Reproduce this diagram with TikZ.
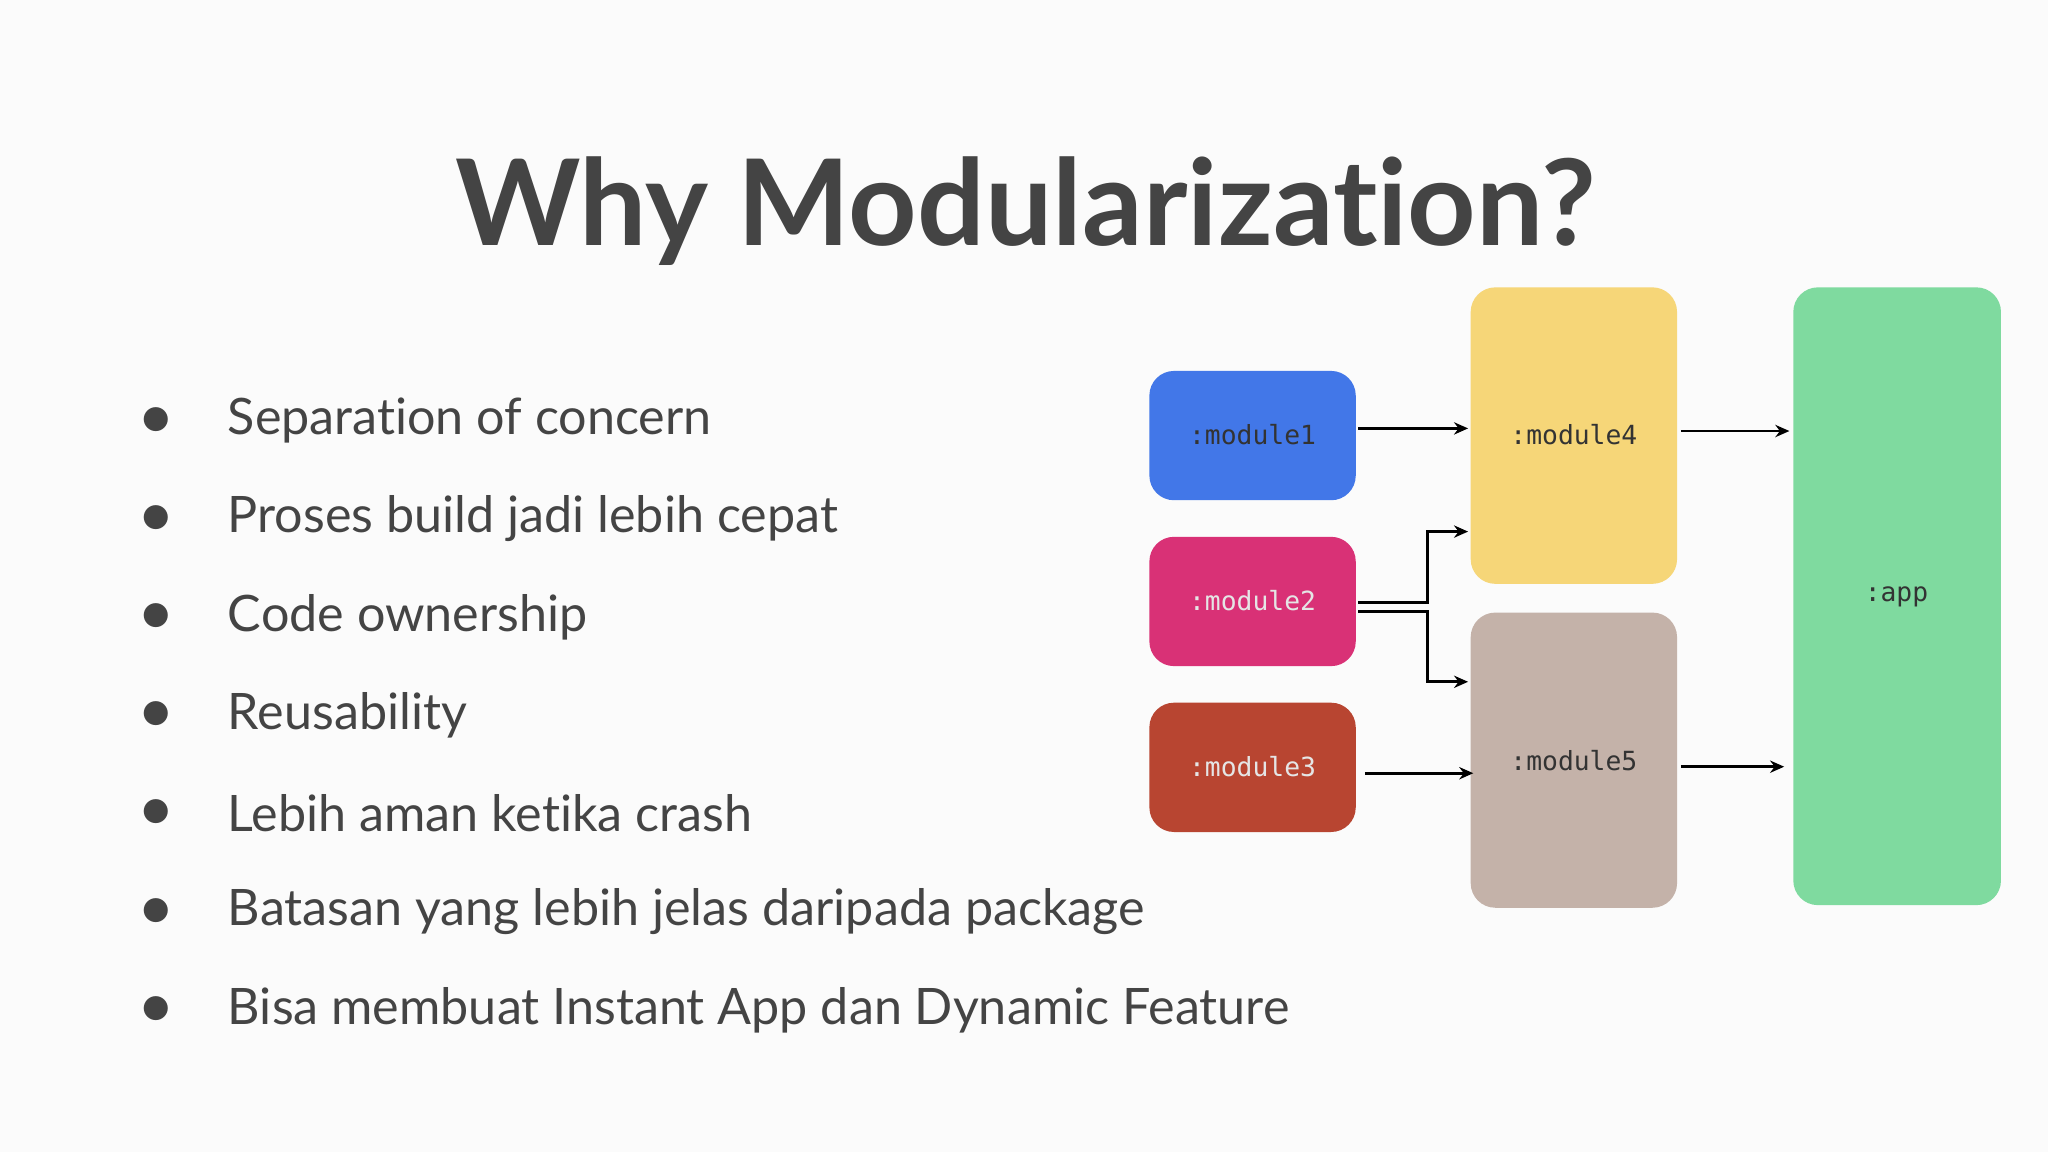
\documentclass[tikz,border=0pt]{standalone}
\usepackage{fontspec}
\setmainfont{Lato}[Ligatures={NoCommon}]
\setmonofont{DejaVu Sans Mono}
\usetikzlibrary{arrows.meta}
\definecolor{txt}{HTML}{444444}
\definecolor{mA}{HTML}{4277E8}
\definecolor{mB}{HTML}{D93176}
\definecolor{mC}{HTML}{B84531}
\definecolor{mD}{HTML}{F6D678}
\definecolor{mE}{HTML}{C4B2A9}
\definecolor{mF}{HTML}{7FDA9F}
\begin{document}
\begin{tikzpicture}[x=0.013061cm,y=-0.013061cm,
  modbox/.style={rounded corners=7pt,inner sep=0pt},
  modlbl/.style={font=\ttfamily\fontsize{7.5}{9}\selectfont,text=black!80},
  conn/.style={-{Stealth[length=4pt,width=3.5pt]},line width=0.8pt},
  bul/.style={anchor=west,font=\fontsize{14.3}{17}\selectfont,text=txt}]
\fill[white!98.5!black] (0,0) rectangle (1568,882);
\useasboundingbox (0,0) rectangle (1568,882);
\node[font=\bfseries\fontsize{34}{40}\selectfont,text=txt] (title) at (785,162) {Why Modularization?};
\foreach \t [count=\i] in {Separation of concern,Proses build jadi lebih cepat,Code ownership,Reusability,Lebih aman ketika crash,Batasan yang lebih jelas daripada package,Bisa membuat Instant App dan Dynamic Feature}{
  \node[text=txt,font=\fontsize{14}{14}\selectfont] (b\i) at (120,{322+75.2*(\i-1)}) {●};
  \node[bul] (t\i) at (165,{322+75.2*(\i-1)}) {\t};
}
\path[modbox,fill=mA] (880,284) rectangle (1038,383);
\node[modlbl] (m1) at (959,333) {:module1};
\path[modbox,fill=mB] (880,411) rectangle (1038,510);
\node[modlbl,text=white!90!black] (m2) at (959,460) {:module2};
\path[modbox,fill=mC] (880,538) rectangle (1038,637);
\node[modlbl,text=white!90!black] (m3) at (959,587) {:module3};
\path[modbox,fill=mD] (1126,220) rectangle (1284,447);
\node[modlbl] (m4) at (1205,333) {:module4};
\path[modbox,fill=mE] (1126,469) rectangle (1284,695);
\node[modlbl] (m5) at (1205,582) {:module5};
\path[modbox,fill=mF] (1373,220) rectangle (1532,693);
\node[modlbl] (app) at (1452,457) {:app};
\coordinate (a1s) at (1040,328); \coordinate (a1e) at (1124,328);
\coordinate (a2s) at (1040,461); \coordinate (a2e) at (1124,407);
\coordinate (a3s) at (1040,468); \coordinate (a3e) at (1124,522);
\coordinate (a4s) at (1045,592); \coordinate (a4e) at (1128,592);
\coordinate (a5s) at (1287,330); \coordinate (a5e) at (1370,330);
\coordinate (a6s) at (1287,587); \coordinate (a6e) at (1366,587);
\draw[conn] (a1s) -- (a1e);
\draw[conn] (a2s) -| (1093,407) -- (a2e);
\draw[conn] (a3s) -| (1093,522) -- (a3e);
\draw[conn] (a4s) -- (a4e);
\draw[conn] (a5s) -- (a5e);
\draw[conn] (a6s) -- (a6e);
\end{tikzpicture}
\end{document}
